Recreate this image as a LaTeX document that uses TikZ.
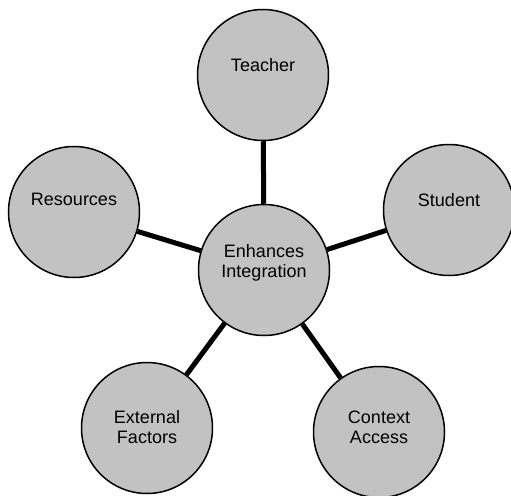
\documentclass[tikz,border=0pt]{standalone}
\usepackage{fontspec}
\setmainfont{Liberation Sans}

\begin{document}
\begin{tikzpicture}[x=1pt,y=-1pt,
	bubble/.style={circle,draw,line width=1.5pt,fill=black!24,minimum size=131pt,inner sep=0pt},
	every label/.style={font=\fontsize{18}{20}\selectfont,align=center},
	spoke/.style={line width=5pt}]
	\useasboundingbox (0,0) rectangle (511,495);
	\node[bubble,label={[yshift=7pt]center:Enhances\\Integration}] (hub) at (264,270) {};
	\node[bubble,label={[yshift=10pt]center:Teacher}] (teacher) at (263,75) {};
	\node[bubble,label={[yshift=10pt]center:Student}] (student) at (449,210) {};
	\node[bubble,label={[yshift=13pt]center:Resources}] (resources) at (74,212) {};
	\node[bubble,label={[yshift=1pt]center:External\\Factors}] (external) at (147,428) {};
	\node[bubble,label={[yshift=5pt]center:Context\\Access}] (context) at (379,432) {};
	\foreach \n in {teacher,student,resources,external,context}
		\draw[spoke] (hub) -- (\n);
\end{tikzpicture}
\end{document}
